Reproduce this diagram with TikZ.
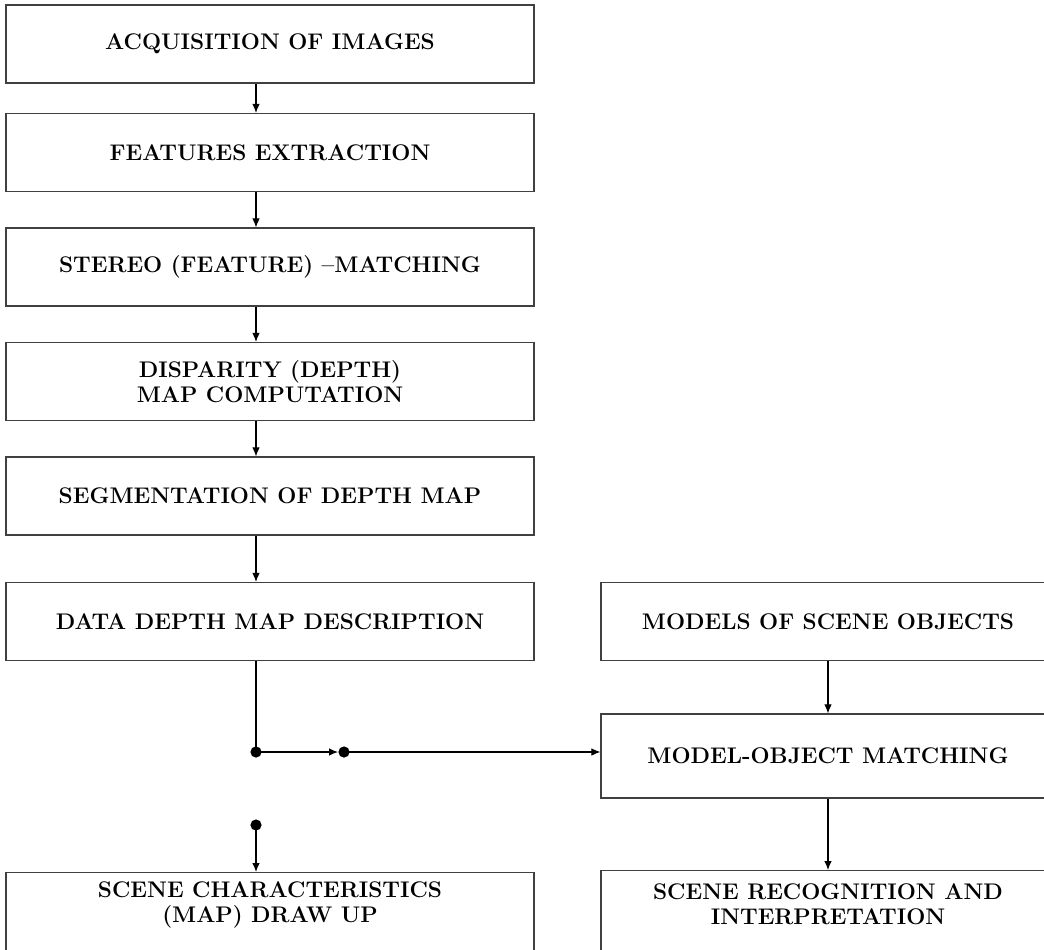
\documentclass[tikz,border=0pt]{standalone}
\usetikzlibrary{arrows.meta}
\begin{document}
\begin{tikzpicture}[x=0.5pt,y=-0.5pt,
  txt/.style={align=center,inner sep=0pt,font=\fontsize{11.3}{12.5}\selectfont\bfseries},
  box/.style={txt,draw=black!75,line width=0.65pt,rectangle},
  lbox/.style={box,minimum width=264pt,minimum height=39pt},
  rbox/.style={box,minimum width=227pt,minimum height=39pt},
  arr/.style={line width=0.55pt,-{Latex[length=4.5pt,width=3.8pt]}},
  ln/.style={line width=0.55pt},
  dot/.style={circle,fill=black,inner sep=0pt,minimum size=5.6pt}]
\useasboundingbox (0,0) rectangle (1044,949);
\node[lbox] (b1) at (270,44) {ACQUISITION OF IMAGES};
\node[lbox] (b2) at (270,152.5) {FEATURES EXTRACTION};
\node[lbox] (b3) at (270,267) {STEREO (FEATURE) --MATCHING};
\node[lbox] (b4) at (270,381.5) {DISPARITY (DEPTH)\\MAP COMPUTATION};
\node[lbox] (b5) at (270,496) {SEGMENTATION OF DEPTH MAP};
\node[lbox] (b6) at (270,621.5) {DATA DEPTH MAP DESCRIPTION};
\node[lbox,minimum height=40pt,anchor=north] (b7) at (270,872) {};
\node[txt] (t7) at (270,905) {SCENE CHARACTERISTICS\\(MAP) DRAW UP};
\node[rbox] (r1) at (828,621.5) {MODELS OF SCENE OBJECTS};
\node[rbox,minimum height=42pt] (r2) at (828,756) {MODEL-OBJECT MATCHING};
\node[rbox,minimum height=40pt,anchor=north] (r3) at (828,870) {};
\node[txt] (t8) at (828,904) {SCENE RECOGNITION AND\\INTERPRETATION};
\coordinate (ax) at (256,0);
\node[dot] (d1) at (256,752) {};
\node[dot] (d2) at (344,752) {};
\node[dot] (d3) at (256,825) {};
\draw[arr] (b1.south -| ax) -- (b2.north -| ax);
\draw[arr] (b2.south -| ax) -- (b3.north -| ax);
\draw[arr] (b3.south -| ax) -- (b4.north -| ax);
\draw[arr] (b4.south -| ax) -- (b5.north -| ax);
\draw[arr] (b5.south -| ax) -- (b6.north -| ax);
\draw[ln] (b6.south -| ax) -- (d1.center);
\draw[arr] (d1.center) -- (d2.west);
\draw[arr] (d2.center) -- (r2.west |- d2);
\draw[arr] (d3.center) -- (b7.north -| ax);
\draw[arr] (r1) -- (r2);
\draw[arr] (r2) -- (r3);
\end{tikzpicture}
\end{document}
